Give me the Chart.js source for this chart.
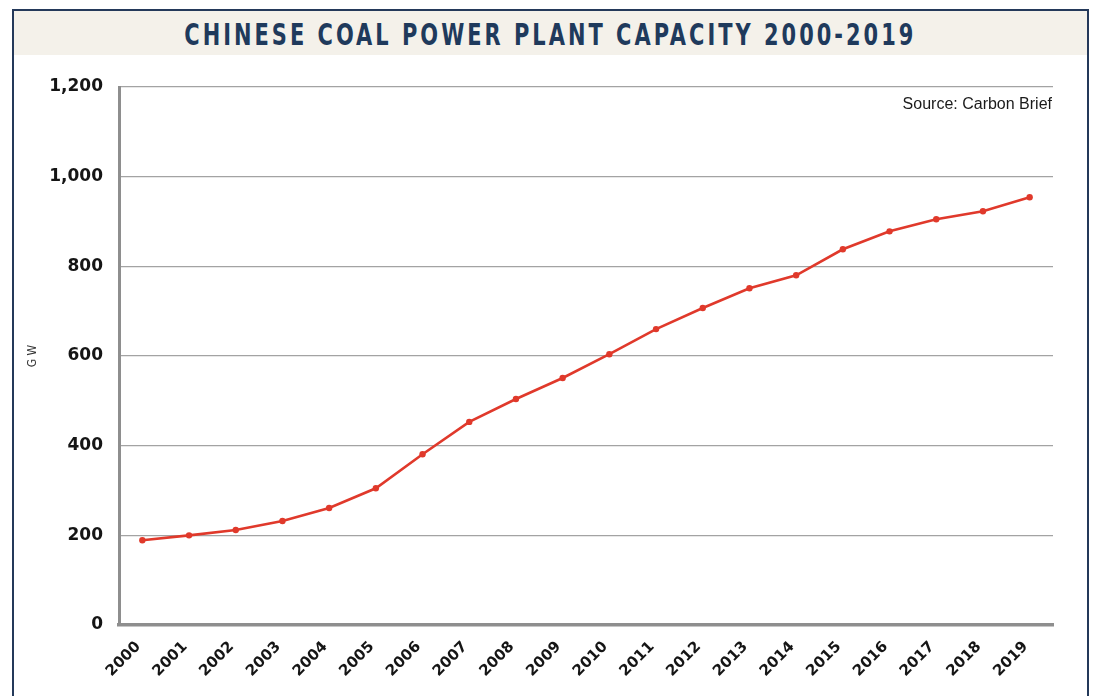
<!DOCTYPE html>
<html>
<head>
<meta charset="utf-8">
<script src="https://cdn.jsdelivr.net/npm/chart.js@4.4.1/dist/chart.umd.min.js"></script>
<style>
  html, body { margin:0; padding:0; background:#ffffff; width:1094px; height:696px; overflow:hidden; }
  #frame { position:absolute; left:12px; top:9px; width:1077px; height:720px; border:2px solid #24395a; border-bottom:none; box-sizing:border-box; }
  #band { position:absolute; left:0; top:0; right:0; height:44px; background:#f4f1ea; }
  #title { position:absolute; left:0; right:0; top:0; height:44px; line-height:46px; text-align:center; }
  #title span { display:inline-block; white-space:nowrap; font-family:"Liberation Sans Narrow","DejaVu Sans Condensed","DejaVu Sans",sans-serif; font-weight:bold; font-size:31px; letter-spacing:4px; color:#1f3a5c; transform-origin:center center; }
  #wrap { position:absolute; left:0; top:0; width:1094px; height:696px; }
</style>
</head>
<body>
<div id="frame"><div id="band"></div><div id="title"><span id="tt">CHINESE COAL POWER PLANT CAPACITY 2000-2019</span></div></div>
<div id="wrap"><canvas id="c" width="1094" height="696"></canvas></div>
<script>
// ---- data ----
const years = ['2000','2001','2002','2003','2004','2005','2006','2007','2008','2009',
               '2010','2011','2012','2013','2014','2015','2016','2017','2018','2019'];
const capacityGW = [189, 200, 212, 232, 261, 305, 381, 453, 504, 551,
                    604, 660, 707, 751, 780, 838, 878, 905, 923, 954];
const yTickValues = [0, 200, 400, 600, 800, 1000, 1200];
const sourceNote = 'Source: Carbon Brief';
const yAxisLabel = 'G W';

// fit title width
(function(){
  const t = document.getElementById('tt');
  const w = t.getBoundingClientRect().width;
  t.style.transform = 'scaleX(' + (732 / w) + ')';
})();

const sourcePlugin = {
  id: 'sourceNote',
  afterDraw(chart) {
    const {ctx, chartArea} = chart;
    ctx.save();
    ctx.font = '16px "Liberation Sans", Arial, sans-serif';
    ctx.fillStyle = '#1a1a1a';
    ctx.textAlign = 'right';
    ctx.textBaseline = 'alphabetic';
    ctx.fillText(sourceNote, chartArea.right - 1, chartArea.top + 22);
    ctx.restore();
  }
};

new Chart(document.getElementById('c'), {
  type: 'line',
  data: {
    labels: years,
    datasets: [{
      data: capacityGW,
      borderColor: '#e0392b',
      backgroundColor: '#e0392b',
      borderWidth: 2.6,
      pointRadius: 3.2,
      pointBorderWidth: 0,
      pointBackgroundColor: '#e0392b',
      tension: 0,
      fill: false
    }]
  },
  options: {
    responsive: false,
    animation: false,
    devicePixelRatio: 1,
    layout: { padding: { left: 20, right: 41, top: 87, bottom: 0 } },
    plugins: { legend: { display: false }, tooltip: { enabled: false }, title: { display: false } },
    scales: {
      x: {
        type: 'category',
        offset: true,
        grid: { display: false, drawTicks: false },
        border: { display: true, color: '#8e8e8e', width: 3.5 },
        ticks: {
          autoSkip: false,
          minRotation: 45, maxRotation: 45,
          padding: 13,
          labelOffset: -4,
          color: '#151515',
          font: { family: '"DejaVu Sans", sans-serif', size: 15, weight: 'bold' }
        },
        afterFit(scale) { scale.height = 71; }
      },
      y: {
        min: 0, max: 1200,
        afterBuildTicks(scale) { scale.ticks = yTickValues.map(v => ({ value: v })); },
        grid: { color: '#a3a3a3', lineWidth: 1.3, drawTicks: false },
        border: { display: true, color: '#8e8e8e', width: 3 },
        ticks: {
          padding: 16,
          color: '#151515',
          font: { family: '"DejaVu Sans", sans-serif', size: 17, weight: 'bold' },
          callback: v => v.toLocaleString('en-US')
        },
        title: {
          display: true,
          text: yAxisLabel,
          color: '#333333',
          padding: { top: 6, bottom: 0 },
          font: { family: '"Liberation Sans Narrow","DejaVu Sans Condensed",sans-serif', size: 12 }
        },
        afterFit(scale) { scale.width = 99; }
      }
    }
  },
  plugins: [sourcePlugin]
});
</script>
</body>
</html>
